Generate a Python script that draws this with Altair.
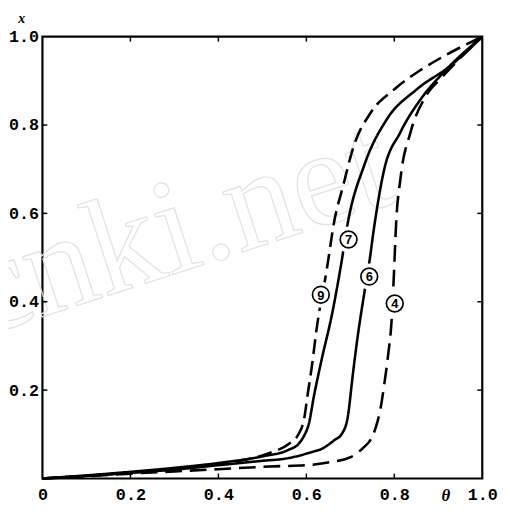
import altair as alt
import pandas as pd

# Curve data (theta, x)
c9_theta = [0, 0.1, 0.2, 0.3, 0.4, 0.5, 0.523, 0.56, 0.582, 0.595, 0.603, 0.612, 0.625, 0.646, 0.664, 0.683, 0.707, 0.747, 0.799, 0.859, 0.911, 1.0]
c9_x     = [0, 0.006, 0.013, 0.022, 0.033, 0.052, 0.06, 0.078, 0.10, 0.135, 0.19, 0.25, 0.35, 0.47, 0.585, 0.66, 0.75, 0.829, 0.88, 0.924, 0.955, 1.0]

c7_theta = [0, 0.1, 0.2, 0.3, 0.4, 0.5, 0.56, 0.582, 0.595, 0.606, 0.617, 0.635, 0.658, 0.68, 0.694, 0.732, 0.783, 0.85, 0.926, 1.0]
c7_x     = [0, 0.007, 0.015, 0.024, 0.035, 0.05, 0.065, 0.078, 0.097, 0.125, 0.185, 0.27, 0.37, 0.49, 0.577, 0.71, 0.813, 0.88, 0.933, 1.0]

c6_theta = [0, 0.1, 0.2, 0.3, 0.4, 0.5, 0.553, 0.613, 0.635, 0.664, 0.68, 0.694, 0.698, 0.703, 0.716, 0.732, 0.743, 0.754, 0.776, 0.814, 0.859, 0.911, 1.0]
c6_x     = [0, 0.006, 0.013, 0.02, 0.03, 0.04, 0.045, 0.06, 0.067, 0.087, 0.1, 0.138, 0.167, 0.212, 0.316, 0.421, 0.488, 0.568, 0.695, 0.784, 0.857, 0.918, 1.0]

c4_theta = [0, 0.1, 0.2, 0.3, 0.4, 0.515, 0.613, 0.649, 0.702, 0.731, 0.747, 0.758, 0.769, 0.777, 0.786, 0.794, 0.799, 0.804, 0.814, 0.837, 0.872, 0.911, 1.0]
c4_x     = [0, 0.005, 0.011, 0.016, 0.021, 0.027, 0.031, 0.036, 0.049, 0.071, 0.089, 0.116, 0.16, 0.212, 0.28, 0.36, 0.46, 0.575, 0.679, 0.784, 0.866, 0.911, 1.0]

# Circled curve labels
label_text  = ["9", "7", "6", "4"]
label_theta = [0.633, 0.696, 0.743, 0.801]
label_x     = [0.416, 0.541, 0.457, 0.396]

x_ticks = [0, 0.2, 0.4, 0.6, 0.8, 1.0]
y_ticks = [0.2, 0.4, 0.6, 0.8, 1.0]
inner_ticks = [0.2, 0.4, 0.6, 0.8]

rows = []
for name, th, xs in [("9", c9_theta, c9_x), ("7", c7_theta, c7_x),
                     ("6", c6_theta, c6_x), ("4", c4_theta, c4_x)]:
    for i, (a, b) in enumerate(zip(th, xs)):
        rows.append({"curve": name, "theta": a, "x": b, "i": i})
df = pd.DataFrame(rows)
lab = pd.DataFrame({"t": label_text, "theta": label_theta, "x": label_x})
tk = pd.DataFrame({"v": inner_ticks})

W, H = 447, 449
FONT = "Liberation Mono"

xs = alt.Scale(domain=[0, 1], nice=False, zero=False)
ys = alt.Scale(domain=[0, 1], nice=False, zero=False)

xaxis = alt.Axis(values=x_ticks, labelExpr="datum.value == 0 ? '0' : format(datum.value, '.1f')",
                 title=None, domain=False, ticks=False, grid=False, labelPadding=8,
                 labelFlush=False, labelOverlap=False,
                 labelFont=FONT, labelFontWeight="bold", labelFontSize=17, labelColor="black")
yaxis = alt.Axis(values=y_ticks, format=".1f", title=None, domain=False, ticks=False, grid=False,
                 labelPadding=4, labelFlush=False, labelOverlap=False,
                 labelFont=FONT, labelFontWeight="bold", labelFontSize=17,
                 labelColor="black")

watermark = alt.Chart(pd.DataFrame({"t": ["cnki.net"]})).mark_text(
    font="Liberation Serif", fontSize=140, angle=342, fillOpacity=0, stroke="#e2e2e2",
    strokeWidth=1.2, align="center", baseline="alphabetic"
).encode(text="t:N", x=alt.value(150), y=alt.value(236))

lines = alt.Chart(df).mark_line(strokeWidth=2.6, interpolate="monotone", color="black").encode(
    x=alt.X("theta:Q", scale=xs, axis=xaxis),
    y=alt.Y("x:Q", scale=ys, axis=yaxis),
    detail="curve:N",
    order="i:Q",
    strokeDash=alt.StrokeDash("curve:N", scale=alt.Scale(domain=["9", "7", "6", "4"],
                              range=[[15, 7], [1, 0], [1, 0], [17, 8]]), legend=None),
)

gap = alt.Chart(lab).mark_point(shape="circle", filled=True, color="white", size=700, opacity=1).encode(
    x=alt.X("theta:Q", scale=xs), y=alt.Y("x:Q", scale=ys))
ring = alt.Chart(lab).mark_point(shape="circle", filled=False, color="black", size=290,
                                 strokeWidth=1.7, opacity=1).encode(
    x=alt.X("theta:Q", scale=xs), y=alt.Y("x:Q", scale=ys))
digits = alt.Chart(lab).mark_text(font=FONT, fontWeight="bold", fontSize=13, color="black",
                                  baseline="middle", align="center", dy=1).encode(
    x=alt.X("theta:Q", scale=xs), y=alt.Y("x:Q", scale=ys), text="t:N")

tb = alt.Chart(tk).mark_rule(color="black", strokeWidth=1.5).encode(
    x=alt.X("v:Q", scale=xs), y=alt.value(H), y2=alt.value(H - 5))
tt = alt.Chart(tk).mark_rule(color="black", strokeWidth=1.5).encode(
    x=alt.X("v:Q", scale=xs), y=alt.value(0), y2=alt.value(5))
tl = alt.Chart(tk).mark_rule(color="black", strokeWidth=1.5).encode(
    y=alt.Y("v:Q", scale=ys), x=alt.value(0), x2=alt.value(5))
tr = alt.Chart(tk).mark_rule(color="black", strokeWidth=1.5).encode(
    y=alt.Y("v:Q", scale=ys), x=alt.value(W), x2=alt.value(W - 5))

xlab = alt.Chart(pd.DataFrame({"t": ["x"]})).mark_text(
    font="Liberation Serif", fontStyle="italic", fontWeight="bold", fontSize=14, color="black",
    align="center", baseline="top").encode(text="t:N", x=alt.value(-21), y=alt.value(-24.5))
thlab = alt.Chart(pd.DataFrame({"t": ["θ"]})).mark_text(
    font="Liberation Serif", fontStyle="italic", fontWeight="bold", fontSize=17, color="black",
    align="center", baseline="middle").encode(text="t:N", x=alt.value(410), y=alt.value(467))

chart = alt.layer(watermark, lines, gap, ring, digits, tb, tt, tl, tr, xlab, thlab).properties(
    width=W, height=H,
    autosize=alt.AutoSizeParams(type="none"),
    padding={"left": 35, "top": 25, "right": 17, "bottom": 34},
    background="white",
).configure_view(stroke="black", strokeWidth=2.2)

chart.save("out.html", embed_options={"renderer": "svg", "actions": False})
